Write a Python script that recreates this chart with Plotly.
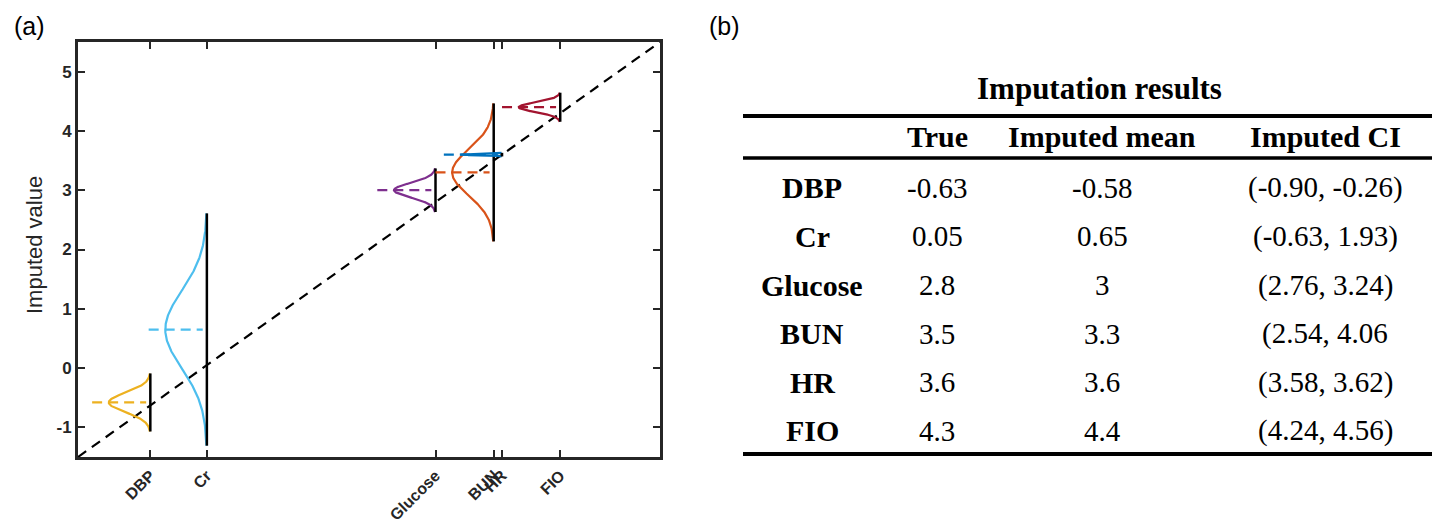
import numpy as np
import plotly.graph_objects as go

# ---------------- data ----------------
names = ["DBP", "Cr", "Glucose", "BUN", "HR", "FIO"]
true_vals = [-0.63, 0.05, 2.8, 3.5, 3.6, 4.3]
imp_mean = [-0.58, 0.65, 3.0, 3.3, 3.6, 4.4]
ci_low = [-0.90, -0.63, 2.76, 2.54, 3.58, 4.24]
ci_high = [-0.26, 1.93, 3.24, 4.06, 3.62, 4.56]

true_text = ["-0.63", "0.05", "2.8", "3.5", "3.6", "4.3"]
mean_text = ["-0.58", "0.65", "3", "3.3", "3.6", "4.4"]
ci_text = ["(-0.90, -0.26)", "(-0.63, 1.93)", "(2.76, 3.24)", "(2.54, 4.06",
           "(3.58, 3.62)", "(4.24, 4.56)"]
header = ["True", "Imputed mean", "Imputed CI"]
y_ticks = [-1, 0, 1, 2, 3, 4, 5]

colors = ["#EDB120", "#4DBEEE", "#7E2F8E", "#D95319", "#0072BD", "#A2142F"]

W, H = 1432, 527
def px(x):
    return x / W
def py(y):
    return 1 - y / H

fig = go.Figure()

# diagonal y = x
fig.add_trace(go.Scatter(x=[-1.5, 5.5], y=[-1.5, 5.5], mode="lines",
                         line=dict(color="black", width=2.2, dash="10px,7px"),
                         hoverinfo="skip"))

for t, m, lo, hi, c in zip(true_vals, imp_mean, ci_low, ci_high, colors):
    sd = (hi - lo) / (2 * 1.96)
    ys = np.linspace(m - 3 * sd, m + 3 * sd, 301)
    xs = t - 0.5 * np.exp(-0.5 * ((ys - m) / sd) ** 2)
    # density curve
    fig.add_trace(go.Scatter(x=xs, y=ys, mode="lines",
                             line=dict(color=c, width=2.2), hoverinfo="skip"))
    # vertical black line
    fig.add_trace(go.Scatter(x=[t, t], y=[m - 3 * sd, m + 3 * sd], mode="lines",
                             line=dict(color="black", width=2.5), hoverinfo="skip"))
    # dashed mean line
    fig.add_trace(go.Scatter(x=[t - 0.7, t - 0.05], y=[m, m], mode="lines",
                             line=dict(color=c, width=2.2, dash="10px,6px"),
                             hoverinfo="skip"))

axis_col = "#262626"
fig.update_layout(
    width=W, height=H,
    margin=dict(l=0, r=0, t=0, b=0),
    plot_bgcolor="white", paper_bgcolor="white",
    showlegend=False, hovermode=False,
    xaxis=dict(domain=[px(78), px(660)], range=[-1.5, 5.5],
               tickvals=true_vals, ticktext=names, tickangle=-45,
               ticks="inside", ticklen=7, tickwidth=2, tickcolor=axis_col,
               showline=True, linewidth=3, linecolor=axis_col, mirror="allticks",
               showgrid=False, zeroline=False,
               tickfont=dict(family="Liberation Sans, Arial", size=16,
                             color=axis_col, weight="bold")),
    yaxis=dict(domain=[py(457), py(42)], range=[-1.5, 5.5],
               tickvals=y_ticks, ticktext=[str(v) for v in y_ticks],
               ticks="inside", ticklen=7, tickwidth=2, tickcolor=axis_col,
               showline=True, linewidth=3, linecolor=axis_col, mirror="allticks",
               showgrid=False, zeroline=False,
               tickfont=dict(family="Liberation Sans, Arial", size=17,
                             color=axis_col, weight="bold")),
)

ann = []
# panel labels
ann.append(dict(x=px(30), y=py(26), text="(a)", showarrow=False, xref="paper", yref="paper",
                xanchor="center", yanchor="middle",
                font=dict(family="Liberation Sans, Arial", size=25, color="black")))
ann.append(dict(x=px(724), y=py(26), text="(b)", showarrow=False, xref="paper", yref="paper",
                xanchor="center", yanchor="middle",
                font=dict(family="Liberation Sans, Arial", size=25, color="black")))
# y-axis title
ann.append(dict(x=px(35), y=py(245), text="Imputed value", showarrow=False,
                xref="paper", yref="paper", textangle=-90,
                xanchor="center", yanchor="middle",
                font=dict(family="Liberation Sans, Arial", size=22, color=axis_col)))

# table
serif = "Liberation Serif, Times New Roman"
ann.append(dict(x=px(1099), y=py(88), text="<b>Imputation results</b>", showarrow=False,
                xref="paper", yref="paper", xanchor="center", yanchor="middle",
                font=dict(family=serif, size=31, color="black")))
col_x = [937, 1102, 1325]
for cx, h in zip(col_x, header):
    ann.append(dict(x=px(cx), y=py(136), text="<b>" + h + "</b>", showarrow=False,
                    xref="paper", yref="paper", xanchor="center", yanchor="middle",
                    font=dict(family=serif, size=30, color="black")))
row_y = [188, 236.5, 285, 333.5, 382, 430.5]
for ry, n, tv, mv, cv in zip(row_y, names, true_text, mean_text, ci_text):
    ann.append(dict(x=px(812), y=py(ry), text="<b>" + n + "</b>", showarrow=False,
                    xref="paper", yref="paper", xanchor="center", yanchor="middle",
                    font=dict(family=serif, size=30, color="black")))
    for cx, txt in zip(col_x, [tv, mv, cv]):
        ann.append(dict(x=px(cx), y=py(ry), text=txt, showarrow=False,
                        xref="paper", yref="paper", xanchor="center", yanchor="middle",
                        font=dict(family=serif, size=29, color="black")))

shapes = []
for yy, lw in [(116, 4), (158, 3.5), (454, 4)]:
    shapes.append(dict(type="line", xref="paper", yref="paper",
                       x0=px(743), x1=1.0, y0=py(yy), y1=py(yy),
                       line=dict(color="black", width=lw)))

fig.update_layout(annotations=ann, shapes=shapes)
fig.write_html("out.html", config={"displayModeBar": False},
               post_script="document.body.style.margin='0px';document.body.style.overflow='hidden';")
